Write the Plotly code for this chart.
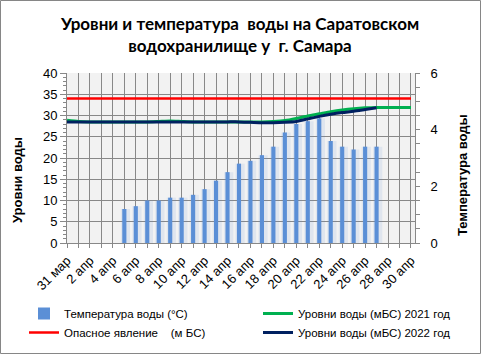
import plotly.graph_objects as go

# ---------------- data ----------------
dates = ["31 мар"] + [f"{d} апр" for d in range(1, 31)]
tick_labels = ["31 мар", "2 апр", "4 апр", "6 апр", "8 апр", "10 апр", "12 апр", "14 апр",
               "16 апр", "18 апр", "20 апр", "22 апр", "24 апр", "26 апр", "28 апр", "30 апр"]

temp_dates = [f"{d} апр" for d in range(5, 28)]
temperature = [1.2, 1.3, 1.5, 1.5, 1.6, 1.6, 1.7, 1.9, 2.2, 2.5, 2.8, 2.9, 3.1, 3.4, 3.9,
               4.2, 4.3, 4.4, 3.6, 3.4, 3.3, 3.4, 3.4]

danger_level = [34.0] * 31

level_2021 = [28.9, 28.6, 28.5, 28.5, 28.5, 28.5, 28.5, 28.5, 28.6, 28.7, 28.6, 28.5, 28.5,
              28.5, 28.5, 28.5, 28.5, 28.5, 28.6, 28.8, 29.3, 29.9, 30.4, 30.9, 31.3, 31.6,
              31.8, 31.9, 31.9, 31.9, 31.9]

level_2022 = [28.5, 28.5, 28.5, 28.5, 28.5, 28.5, 28.5, 28.5, 28.5, 28.5, 28.5, 28.5, 28.5,
              28.5, 28.5, 28.5, 28.4, 28.3, 28.3, 28.4, 28.6, 29.2, 29.8, 30.3, 30.7, 31.0,
              31.4, 31.8, None, None, None]

# positions on the date axis (day index)
pos = {d: i for i, d in enumerate(dates)}
x_all = [pos[d] for d in dates]
x_temp = [pos[d] for d in temp_dates]
x_ticks = [pos[d] for d in tick_labels]

# ---------------- styles ----------------
GRID = "#888888"
FONT = "Liberation Sans"
NB = "\u00a0"

fig = go.Figure()

# soft shadow behind the temperature bars (same data)
fig.add_trace(go.Bar(
    x=x_temp, y=temperature, marker=dict(color="rgba(91,143,214,0.12)", line=dict(width=0)),
    width=0.8, offset=-0.3, yaxis="y", showlegend=False, hoverinfo="skip",
))
fig.add_trace(go.Bar(
    x=x_temp, y=temperature, name="Температура воды (°C)",
    marker=dict(color="#5B8FD6", line=dict(width=0)), width=0.36,
    yaxis="y", legend="legend", legendgroup="a",
))
fig.add_trace(go.Scatter(
    x=x_all, y=danger_level, name="Опасное явление" + NB * 4 + "(м БС)",
    mode="lines", line=dict(color="#FF0000", width=2.5),
    yaxis="y2", legend="legend", legendgroup="b",
))
fig.add_trace(go.Scatter(
    x=x_all, y=level_2021, name="Уровни воды (мБС)" + NB + "2021 год",
    mode="lines", line=dict(color="#00B050", width=3, shape="spline", smoothing=0.6),
    yaxis="y2", legend="legend2", legendgroup="c",
))
fig.add_trace(go.Scatter(
    x=x_all, y=level_2022, name="Уровни воды (мБС)" + NB + "2022 год",
    mode="lines", line=dict(color="#002060", width=3, shape="spline", smoothing=0.6),
    yaxis="y2", legend="legend2", legendgroup="d",
))

PL, PR, PT, PB = 67, 415, 73, 243
W, H = 481, 354

def px2paper_x(px):
    return (px - PL) / (PR - PL)

def px2paper_y(py):
    return (PB - py) / (PB - PT)

fig.update_layout(
    width=W, height=H, autosize=False,
    margin=dict(l=PL, r=W - PR, t=PT, b=H - PB, pad=0, autoexpand=False),
    paper_bgcolor="white", plot_bgcolor="#F2F2F2",
    font=dict(family=FONT, size=12, color="#000000"),
    title=dict(
        text="<b>Уровни и температура" + NB * 2 + "воды на Саратовском<br>водохранилище у" + NB * 2 + "г. Самара</b>",
        x=0.499, xref="container", xanchor="center",
        y=1 - 30 / H, yref="container", yanchor="top",
        font=dict(family="Lato", size=17, color="#000000"),
    ),
    barmode="overlay",
    xaxis=dict(
        range=[0, 30.35], tickmode="array", tickvals=x_ticks, ticktext=tick_labels,
        tickangle=-45, showgrid=True, gridcolor=GRID, gridwidth=1,
        ticks="outside", ticklen=4, tickcolor=GRID,
        showline=True, linecolor=GRID, zeroline=False, automargin=False,
        minor=dict(tickmode="linear", tick0=0, dtick=1, showgrid=True, gridcolor=GRID,
                   ticks="outside", ticklen=4, tickcolor=GRID),
        tickfont=dict(size=13),
    ),
    yaxis=dict(
        range=[0, 6], side="right", dtick=2, showgrid=False, zeroline=False,
        showline=True, linecolor=GRID, ticks="outside", ticklen=4, tickcolor=GRID,
        minor=dict(dtick=0.5, ticks="outside", ticklen=4, tickcolor=GRID, showgrid=False),
        ticklabelstandoff=8, tickfont=dict(size=13), automargin=False,
    ),
    yaxis2=dict(
        range=[0, 40], side="left", overlaying="y", dtick=5, showgrid=True,
        gridcolor=GRID, gridwidth=1, zeroline=False,
        showline=True, linecolor=GRID, ticks="outside", ticklen=6, tickcolor=GRID,
        minor=dict(dtick=1, ticks="outside", ticklen=3, tickcolor=GRID, showgrid=False),
        tickfont=dict(size=13), automargin=False,
    ),
    legend=dict(
        xref="container", yref="container", x=24 / W, y=1 - 299 / H,
        xanchor="left", yanchor="top", orientation="v",
        font=dict(size=11.5), tracegroupgap=18, bgcolor="rgba(0,0,0,0)",
        traceorder="normal", itemwidth=30,
    ),
    legend2=dict(
        xref="container", yref="container", x=258 / W, y=1 - 299 / H,
        xanchor="left", yanchor="top", orientation="v",
        font=dict(size=11.5), tracegroupgap=18, bgcolor="rgba(0,0,0,0)",
        traceorder="normal", itemwidth=30,
    ),
    annotations=[
        dict(text="<b>Уровни воды</b>", xref="paper", yref="paper",
             x=px2paper_x(17), y=px2paper_y(180), textangle=-90, showarrow=False,
             xanchor="center", yanchor="middle", font=dict(size=13)),
        dict(text="<b>Температура воды</b>", xref="paper", yref="paper",
             x=px2paper_x(462), y=px2paper_y(175), textangle=-90, showarrow=False,
             xanchor="center", yanchor="middle", font=dict(size=13)),
    ],
    shapes=[
        dict(type="rect", xref="paper", yref="paper",
             x0=px2paper_x(0.5), x1=px2paper_x(480.5), y0=px2paper_y(353.5), y1=px2paper_y(0.5),
             line=dict(color="#868686", width=1), fillcolor="rgba(0,0,0,0)", layer="below"),
    ],
)

fig.write_html("out.html")
